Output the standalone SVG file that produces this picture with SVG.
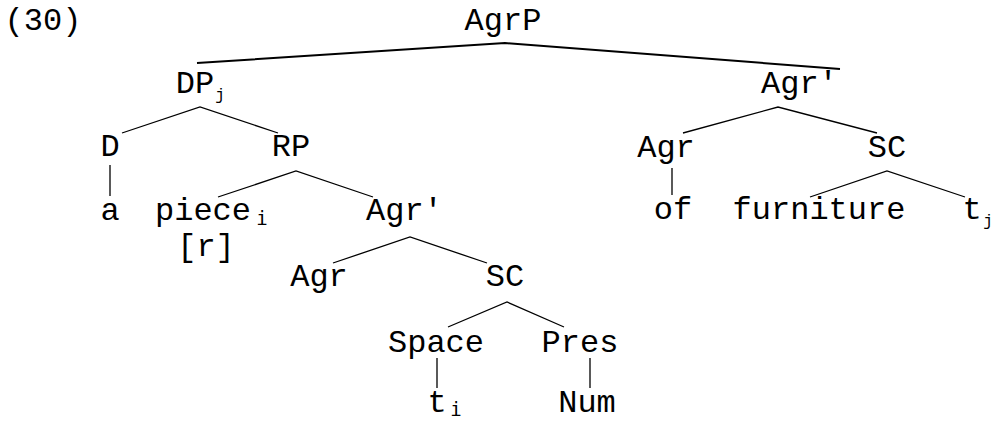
<svg xmlns="http://www.w3.org/2000/svg" width="995" height="422" viewBox="0 0 995 422">
<style>
text{font-family:"Liberation Mono","Courier New",monospace;font-size:32px;fill:#000}
.m{text-anchor:middle}
.sub{font-size:16px}
.subi{font-size:19px;font-family:"DejaVu Sans Mono","Liberation Mono",monospace}
.e{stroke:#000;stroke-width:1.3;fill:none}
.t{stroke:#000;stroke-width:2;fill:none}
</style>
<rect width="995" height="422" fill="#fff"/>
<text x="43" y="30" class="m">(30)</text>
<g id="connectors">
<polyline class="t" points="197,63 505,43 840,69"/>
<polyline class="e" points="122,133 200,107 278,133"/>
<line class="e" x1="110" y1="165" x2="110" y2="196"/>
<polyline class="e" points="218,197 296,171 373,197"/>
<polyline class="e" points="333,263 410,237 487,263"/>
<polyline class="e" points="448,327 507,302 564,327"/>
<line class="e" x1="437" y1="358" x2="437" y2="388"/>
<line class="e" x1="590" y1="358" x2="590" y2="388"/>
<polyline class="e" points="683,133 778,107 877,133"/>
<line class="e" x1="672" y1="168" x2="672" y2="195"/>
<polyline class="e" points="810,197 887,171 965,197"/>
</g>
<g id="n-agrp"><text x="503" y="30" class="m">AgrP</text></g>
<g id="n-dp"><text x="195" y="93" class="m">DP</text><text x="220" y="100" class="sub m">j</text></g>
<g id="n-d"><text x="110" y="156" class="m">D</text></g>
<g id="n-a"><text x="110" y="220" class="m">a</text></g>
<g id="n-rp"><text x="291" y="156" class="m">RP</text></g>
<g id="n-piece"><text x="203" y="220" class="m">piece</text><text x="262" y="225" class="subi m">i</text><text x="206" y="256" class="m">[r]</text></g>
<g id="n-agrbar1"><text x="366" y="220">Agr'</text></g>
<g id="n-agr1"><text x="319" y="286" class="m">Agr</text></g>
<g id="n-sc1"><text x="505" y="286" class="m">SC</text></g>
<g id="n-space"><text x="436" y="352" class="m">Space</text></g>
<g id="n-pres"><text x="580" y="352" class="m">Pres</text></g>
<g id="n-ti"><text x="437" y="412" class="m">t</text><text x="456" y="416" class="subi m">i</text></g>
<g id="n-num"><text x="587" y="412" class="m">Num</text></g>
<g id="n-agrbar2"><text x="761" y="93">Agr'</text></g>
<g id="n-agr2"><text x="666" y="157" class="m">Agr</text></g>
<g id="n-sc2"><text x="887" y="157" class="m">SC</text></g>
<g id="n-of"><text x="673" y="219" class="m">of</text></g>
<g id="n-furniture"><text x="819" y="219" class="m">furniture</text></g>
<g id="n-tj"><text x="972" y="219" class="m">t</text><text x="988" y="226" class="sub m">j</text></g>
</svg>
